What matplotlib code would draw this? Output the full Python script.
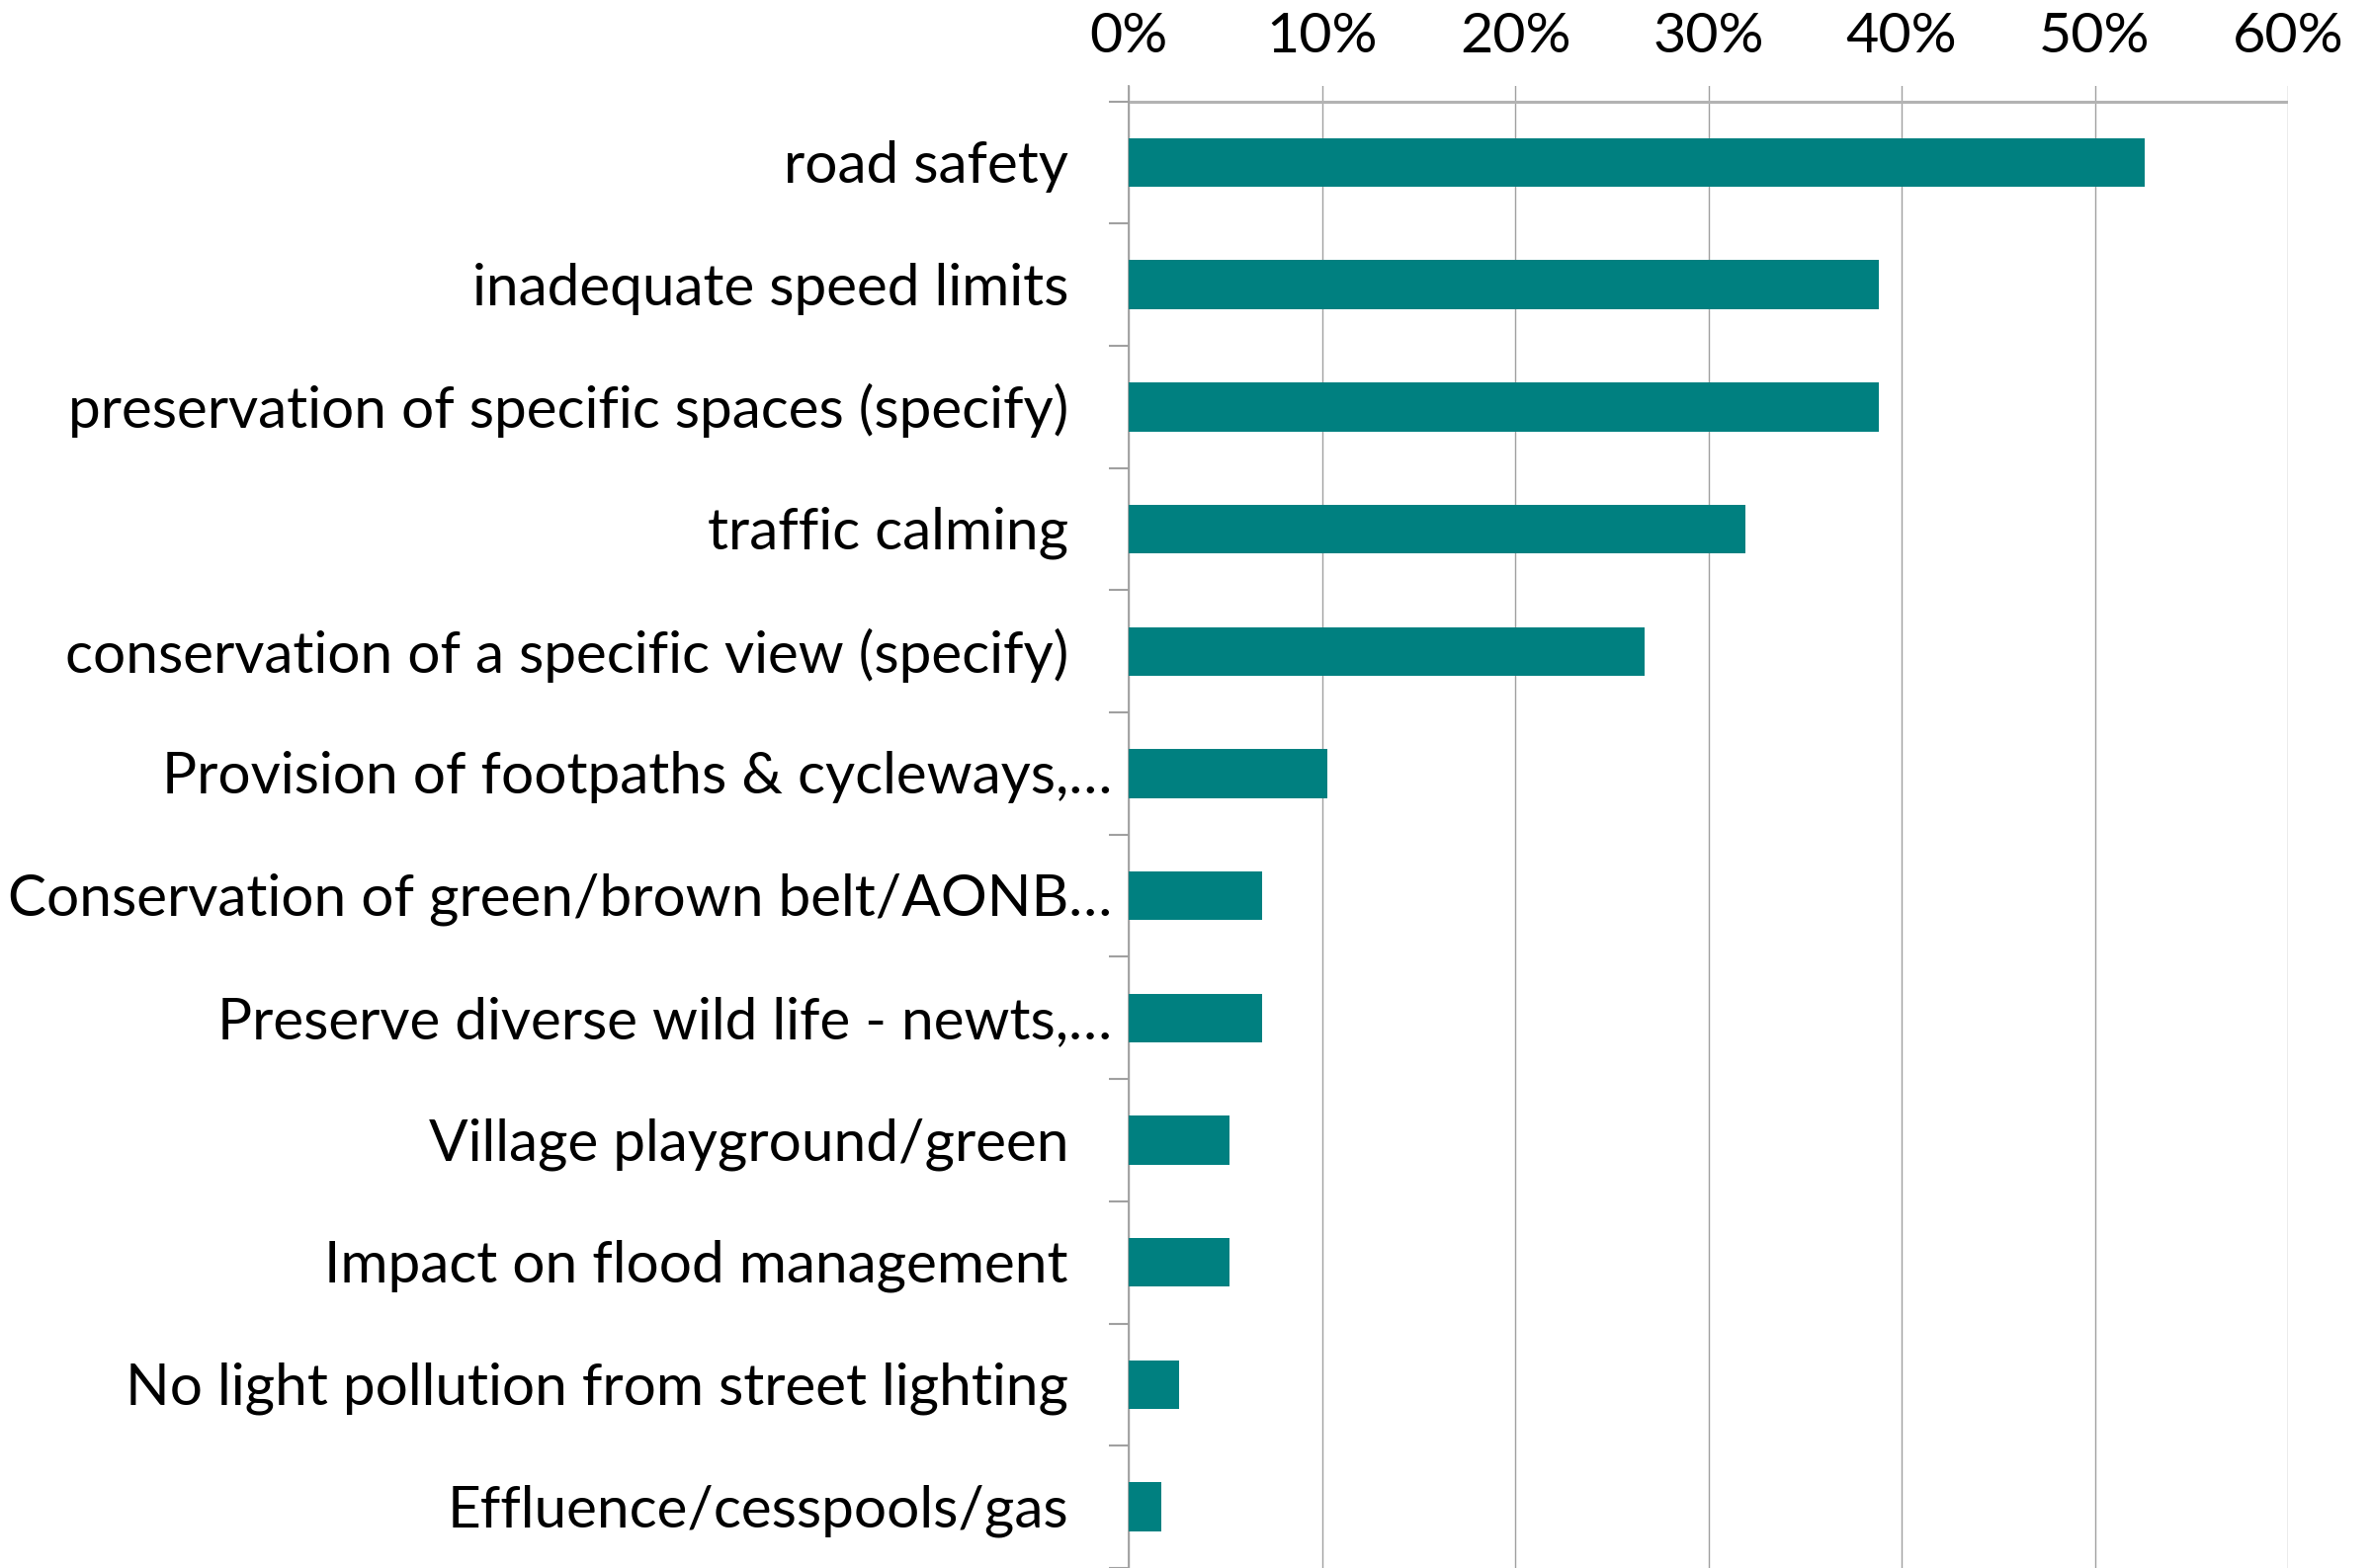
import numpy as np
import matplotlib
matplotlib.use("Agg")
import matplotlib.pyplot as plt
from matplotlib.transforms import offset_copy
from matplotlib.ticker import PercentFormatter

categories = [
    "road safety",
    "inadequate speed limits",
    "preservation of specific spaces (specify)",
    "traffic calming",
    "conservation of a specific view (specify)",
    "Provision of footpaths & cycleways,…",
    "Conservation of green/brown belt/AONB…",
    "Preserve diverse wild life - newts,…",
    "Village playground/green",
    "Impact on flood management",
    "No light pollution from street lighting",
    "Effluence/cesspools/gas",
]
values = [52.6, 38.8, 38.8, 31.9, 26.7, 10.3, 6.9, 6.9, 5.2, 5.2, 2.6, 1.7]
xticks = [0, 10, 20, 30, 40, 50, 60]

W, H = 2401, 1587
fig = plt.figure(figsize=(W / 100, H / 100), dpi=100)
ax = fig.add_axes([1142 / W, 0, (2315 - 1142) / W, 1 - 87 / H])

FONT = "Lato"
fs = 36
# fit font size so the labels match the reference widths
probe1 = fig.text(0, 0, categories[2], fontsize=fs, family=FONT)
probe2 = fig.text(0, 0, categories[6], fontsize=fs, family=FONT)
renderer = fig.canvas.get_renderer()
w1 = probe1.get_window_extent(renderer).width
w2 = probe2.get_window_extent(renderer).width
fs = fs * 0.5 * (1024 / w1 + 1107 / w2)
probe1.remove()
probe2.remove()

y = np.arange(len(categories))
ax.barh(y, values, height=0.4, color="#008080", zorder=3)

ax.set_xlim(0, 60)
ax.set_ylim(11.46, -0.626)
ax.xaxis.set_ticks_position("top")
ax.set_xticks(xticks)
ax.xaxis.set_major_formatter(PercentFormatter(decimals=0))
ax.tick_params(axis="x", length=0, pad=17, labelsize=fs * 0.98)
for lab in ax.get_xticklabels():
    lab.set_family(FONT)
ax.xaxis.grid(True, color="#A0A0A0", lw=1.0, zorder=0)

ax.set_yticks(np.arange(-0.5, len(categories), 1))
ax.set_yticklabels([])
ax.tick_params(axis="y", length=14.4, width=1.5, color="#A0A0A0", direction="out")

for s in ["top", "right", "bottom"]:
    ax.spines[s].set_visible(False)
ax.spines["left"].set_color("#A0A0A0")
ax.spines["left"].set_linewidth(1.3)

ax.axhline(-0.5, color="#B3B3B3", lw=2.2, zorder=2)

for i, lab in enumerate(categories):
    pad = 17 if lab.endswith("…") else 61
    tr = offset_copy(ax.get_yaxis_transform(), fig=fig, x=-pad, y=-4, units="dots")
    ax.text(0, i, lab, transform=tr, ha="right", va="center", fontsize=fs,
            family=FONT, color="black")

fig.savefig("out.png", dpi=100)
